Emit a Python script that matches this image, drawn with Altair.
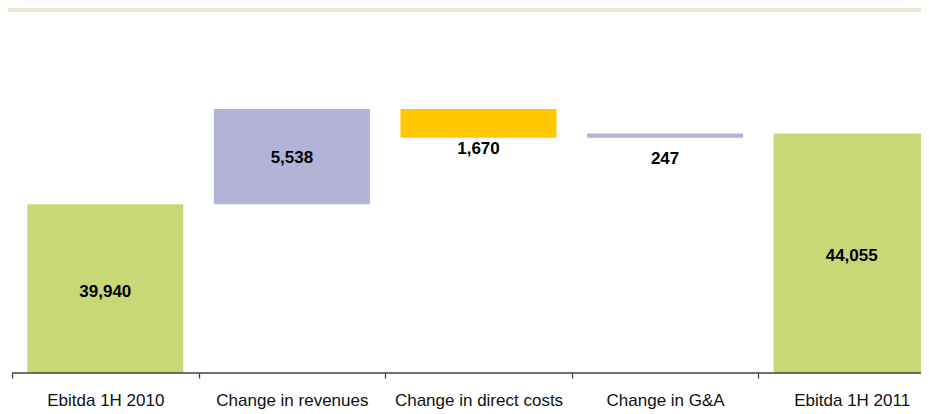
import json
import altair as alt
import pandas as pd

categories = ["Ebitda 1H 2010", "Change in revenues", "Change in direct costs",
              "Change in G&A", "Ebitda 1H 2011"]
amounts = [39940, 5538, -1670, 247, 44055]
kinds = ["total", "increase", "decrease", "increase", "total"]

# build waterfall start / end from the amounts
starts, ends = [], []
running = 0
for a, k in zip(amounts, kinds):
    if k == "total":
        starts.append(0)
        ends.append(a)
        running = a
    else:
        starts.append(running)
        running += a
        ends.append(running)

Y_MIN, Y_MAX = 30150, 51335

df = pd.DataFrame({
    "idx": list(range(len(categories))),
    "category": categories,
    "amount": amounts,
    "kind": kinds,
    "start": starts,
    "end": ends,
})
df["label"] = df["amount"].abs().map(lambda v: f"{v:,}")
df["low"] = df[["start", "end"]].min(axis=1)
df["mid"] = (df["low"].clip(lower=Y_MIN) + df[["start", "end"]].max(axis=1)) / 2

FONT = "Liberation Sans"
W, H = 913, 365
BOTTOM = 41

x_scale = alt.Scale(domain=[-0.52144, 4.37138], nice=False, zero=False, padding=0)
y_scale = alt.Scale(domain=[Y_MIN, Y_MAX], zero=False, nice=False, padding=0)

label_expr = ("abs(datum.value % 1) < 0.01 ? " + json.dumps(categories)
              + "[round(datum.value)] : ''")

x_axis = alt.Axis(
    values=[-0.5, 0, 0.5, 1, 1.5, 2, 2.5, 3, 3.5, 4],
    labelExpr=label_expr,
    labelAngle=0, labelFontSize=17, labelFont=FONT, labelColor="#111111",
    labelOverlap=False, labelFlush=False, labelBound=False,
    tickSize=5, tickColor="#404040", tickWidth=1.3,
    tickOpacity={"condition": {"test": "abs(datum.value % 1) < 0.01", "value": 0},
                 "value": 1},
    domain=False, labelPadding=14, grid=False, title=None,
)


def xq():
    return alt.X("idx:Q", scale=x_scale, axis=x_axis)


base = alt.Chart(df)

band = alt.Chart(pd.DataFrame({"a": [0]})).mark_rect(color="#EEE6D0").encode(
    x=alt.value(0), x2=alt.value(W), y=alt.value(0), y2=alt.value(4)
)

bars = base.mark_bar(width=156, clip=True).encode(
    x=xq(),
    y=alt.Y("start:Q", scale=y_scale, axis=None),
    y2="end:Q",
    color=alt.Color(
        "kind:N",
        scale=alt.Scale(domain=["total", "increase", "decrease"],
                        range=["#C9D877", "#B3B3D7", "#FFC700"]),
        legend=None,
    ),
)

axis_line = base.transform_filter(alt.datum.idx == 0).mark_rule(
    color="#404040", strokeWidth=1.3
).encode(
    x=alt.datum(-0.5, scale=x_scale, axis=x_axis), x2=alt.value(W), y=alt.value(H)
)

text_props = dict(font=FONT, fontSize=17, fontWeight="bold", color="#000000",
                  baseline="middle", align="center")


def label_layer(names, field, dy):
    return base.transform_filter(
        alt.FieldOneOfPredicate(field="category", oneOf=names)
    ).mark_text(dy=dy, **text_props).encode(
        x=xq(),
        y=alt.Y(f"{field}:Q", scale=y_scale, axis=None),
        text="label:N",
    )


total_labels = label_layer(["Ebitda 1H 2010", "Ebitda 1H 2011"], "mid", 3)
rev_label = label_layer(["Change in revenues"], "mid", 1)
cost_label = label_layer(["Change in direct costs"], "low", 11)
ga_label = label_layer(["Change in G&A"], "low", 21)

chart = alt.layer(
    bars, band, axis_line, total_labels, rev_label, cost_label, ga_label
).properties(
    width=W,
    height=H,
    autosize=alt.AutoSizeParams(type="none"),
    padding={"left": 0, "top": 0, "right": 0, "bottom": BOTTOM},
).configure(background="white").configure_view(stroke=None)

chart.save("out.html", embed_options={"renderer": "svg", "actions": False})
